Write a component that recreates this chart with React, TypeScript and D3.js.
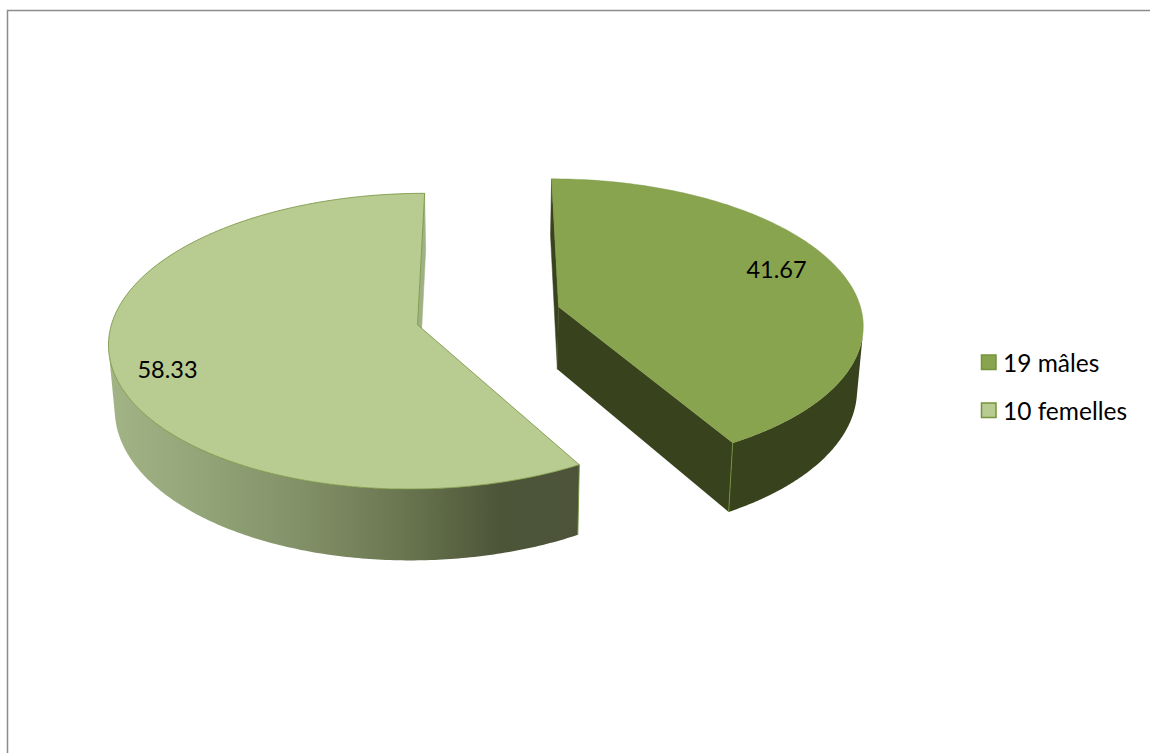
import React from "react";
import * as d3 from "d3";

const categories = ["19 mâles", "10 femelles"];
const values = [41.67, 58.33];
const topColors = ["#89a44e", "#b8cb91"];
const edgeColors = ["#76923c", "#76923c"];
const wallColors = ["#38421c", "url(#femaleWall)"];
const sideColors = ["#38421c", "#a0b285"];
const labelCenters: [number, number][] = [
  [776.5, 269],
  [167.5, 369],
];

// Perspective camera for the tilted disc, in units of the pie radius.
const WIDTH = 1150;
const HEIGHT = 753;
const VANISH_X = 488.5;
const VANISH_Y = -985;
const SCALE_X = 302;
const SCALE_Y = 1292;
const NEAR_BASE = 0.9933;
const TILT = 0.11;
const EXPLODE = 0.24;
const WALL_DEPTH = 62.5;
const WALL_CONVERGE = 0.0165;

type Pt = [number, number];

function project(u: number, v: number): { x: number; y: number; d: number } {
  const d = NEAR_BASE - TILT * v;
  return { x: VANISH_X + (SCALE_X * u) / d, y: VANISH_Y + SCALE_Y / d, d };
}

export default function App() {
  const pie = d3.pie<number>().sort(null).startAngle(0).endAngle(2 * Math.PI);
  const arcs = pie(values);
  const line = d3.line<Pt>();

  const slices = arcs.map((a, i) => {
    const mid = (a.startAngle + a.endAngle) / 2;
    const cu = EXPLODE * Math.sin(mid);
    const cv = -EXPLODE * Math.cos(mid);

    const top = (theta: number, r = 1): Pt => {
      const p = project(cu + r * Math.sin(theta), cv - r * Math.cos(theta));
      return [p.x, p.y];
    };
    const bottom = (theta: number, r = 1): Pt => {
      const p = project(cu + r * Math.sin(theta), cv - r * Math.cos(theta));
      return [p.x + (VANISH_X - p.x) * WALL_CONVERGE, p.y + WALL_DEPTH / p.d];
    };
    const sweep = (from: number, to: number) =>
      d3.range(0, 161).map((k) => from + ((to - from) * k) / 160);

    const apex = top(0, 0);
    const rim = sweep(a.startAngle, a.endAngle);
    const face = line([apex, ...rim.map((t) => top(t))])! + "Z";

    // The outer wall ends where the rim's tangent runs parallel to the wall's edge.
    const silhouette =
      d3.least(rim, (t) => {
        const before = top(t - 0.001);
        const after = top(t + 0.001);
        const p = top(t);
        const q = bottom(t);
        const tx = (after[0] - before[0]) / 0.002;
        const ty = (after[1] - before[1]) / 0.002;
        return Math.abs(tx * (q[1] - p[1]) - ty * (q[0] - p[0]));
      }) ?? mid;
    const span =
      silhouette < Math.PI ? sweep(silhouette, a.endAngle) : sweep(a.startAngle, silhouette);
    const wall =
      line([...span.map((t) => top(t)), ...span.slice().reverse().map((t) => bottom(t))])! + "Z";

    const radial = (theta: number) =>
      line([apex, top(theta), bottom(theta), bottom(0, 0)])! + "Z";

    const corner = i === 0 ? a.endAngle : a.startAngle;
    return {
      i,
      face,
      wall,
      backFace: radial(i === 0 ? a.startAngle : a.endAngle),
      frontFace: radial(corner),
      cornerTop: top(corner),
      cornerBottom: bottom(corner),
    };
  });

  return (
    <svg
      width={WIDTH}
      height={HEIGHT}
      style={{ position: "fixed", left: 0, top: 0, background: "#fff" }}
      fontFamily="Lato, 'Open Sans', sans-serif"
    >
      <defs>
        <linearGradient id="femaleWall" gradientUnits="userSpaceOnUse" x1={110} x2={580} y1={0} y2={0}>
          <stop offset="0" stopColor="#a2b486" />
          <stop offset="0.2" stopColor="#93a478" />
          <stop offset="0.42" stopColor="#818f66" />
          <stop offset="0.62" stopColor="#6a7650" />
          <stop offset="0.83" stopColor="#4d5539" />
          <stop offset="1" stopColor="#4c5339" />
        </linearGradient>
      </defs>

      <path d={`M7.5,${HEIGHT}V10.5H${WIDTH}`} fill="none" stroke="#8c8c8c" strokeWidth={1.5} />

      {slices.map((s) => (
        <g key={categories[s.i]}>
          <path d={s.backFace} fill={sideColors[s.i]} stroke={sideColors[s.i]} strokeWidth={0.5} />
          {s.i === 0 && <path d={s.frontFace} fill={sideColors[0]} />}
          <path d={s.wall} fill={wallColors[s.i]} />
          <line
            x1={s.cornerTop[0]}
            y1={s.cornerTop[1]}
            x2={s.cornerBottom[0]}
            y2={s.cornerBottom[1]}
            stroke={edgeColors[s.i]}
            strokeWidth={0.9}
          />
          <path d={s.face} fill={topColors[s.i]} stroke={edgeColors[s.i]} strokeWidth={s.i === 0 ? 0.4 : 0.8} />
        </g>
      ))}

      {slices.map((s) => (
        <text
          key={s.i}
          x={labelCenters[s.i][0]}
          y={labelCenters[s.i][1]}
          textAnchor="middle"
          dominantBaseline="central"
          fontSize={23.5}
          fill="#000"
        >
          {values[s.i].toFixed(2)}
        </text>
      ))}

      {categories.map((c, i) => (
        <g key={c} transform={`translate(981.5,${355 + i * 48})`}>
          <rect width={14.5} height={14.5} fill={topColors[i]} stroke={edgeColors[i]} strokeWidth={1.5} />
          <text x={21.5} y={7} dominantBaseline="central" fontSize={24.5} fill="#000">
            {c}
          </text>
        </g>
      ))}
    </svg>
  );
}
